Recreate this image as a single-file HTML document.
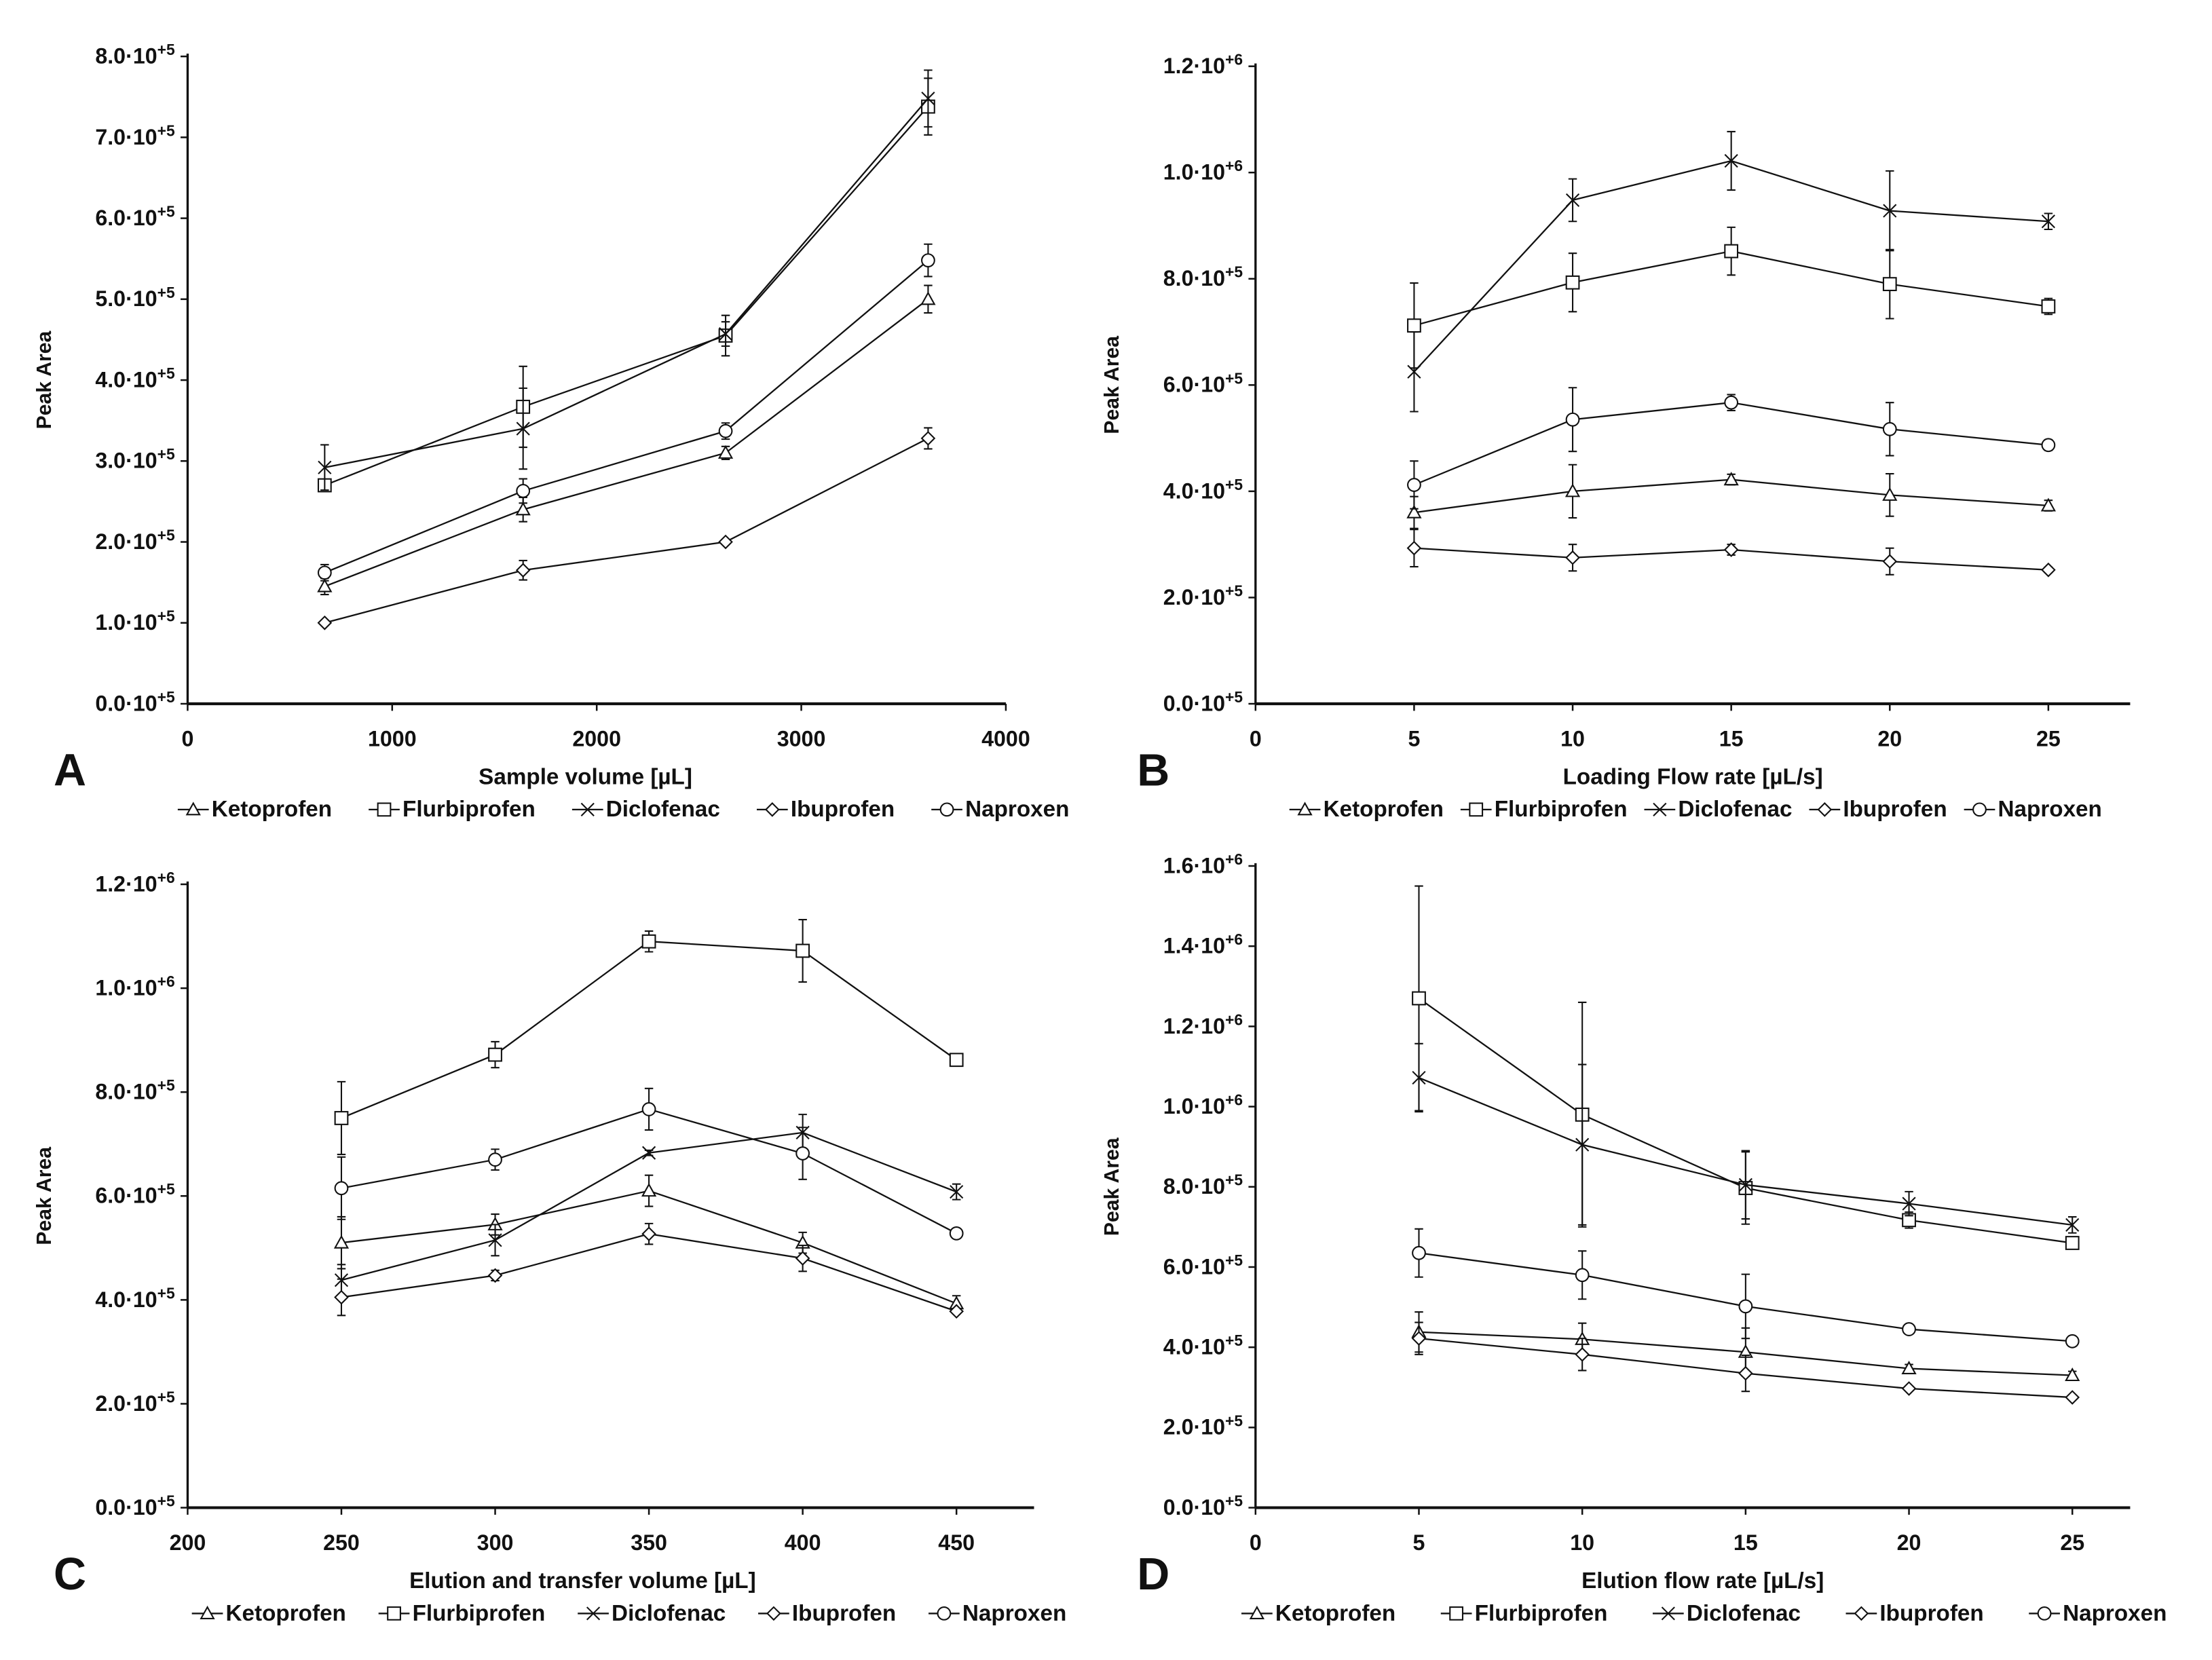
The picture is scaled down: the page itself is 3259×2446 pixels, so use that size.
<!DOCTYPE html>
<html><head><meta charset="utf-8"><style>
html,body{margin:0;padding:0;background:#fff}
svg{display:block}
text{font-family:"Liberation Sans Narrow","Liberation Sans",sans-serif;font-weight:bold;fill:#111}
</style></head><body>
<svg id="chart" xmlns="http://www.w3.org/2000/svg" width="3259" height="2446" viewBox="0 0 1568 1177" preserveAspectRatio="none"></svg>
<script>
// ---- data ----
const seriesNames = ["Ketoprofen","Flurbiprofen","Diclofenac","Ibuprofen","Naproxen"];
const markerTypes = ["triangle","square","cross","diamond","circle"];

const xA = [670,1640,2630,3620];
const ketoA = [1.45e5,2.4e5,3.1e5,5.0e5];   const ketoAErr = [0.1e5,0.15e5,0.08e5,0.17e5];
const flurA = [2.7e5,3.67e5,4.55e5,7.38e5]; const flurAErr = [0.05e5,0.5e5,0.25e5,0.35e5];
const dicA  = [2.92e5,3.4e5,4.57e5,7.48e5]; const dicAErr  = [0.28e5,0.5e5,0.15e5,0.35e5];
const ibuA  = [1.0e5,1.65e5,2.0e5,3.28e5];  const ibuAErr  = [0.03e5,0.12e5,0.03e5,0.13e5];
const napA  = [1.62e5,2.63e5,3.37e5,5.48e5];const napAErr  = [0.1e5,0.15e5,0.1e5,0.2e5];

const xB = [5,10,15,20,25];
const ketoB = [3.6e5,4.0e5,4.22e5,3.93e5,3.73e5];  const ketoBErr = [0.3e5,0.5e5,0.1e5,0.4e5,0.1e5];
const flurB = [7.12e5,7.93e5,8.52e5,7.9e5,7.48e5]; const flurBErr = [0.8e5,0.55e5,0.45e5,0.65e5,0.15e5];
const dicB  = [6.25e5,9.48e5,10.22e5,9.28e5,9.08e5]; const dicBErr = [0.75e5,0.4e5,0.55e5,0.75e5,0.15e5];
const ibuB  = [2.93e5,2.75e5,2.9e5,2.68e5,2.52e5]; const ibuBErr  = [0.35e5,0.25e5,0.1e5,0.25e5,0.05e5];
const napB  = [4.12e5,5.35e5,5.67e5,5.17e5,4.87e5]; const napBErr = [0.45e5,0.6e5,0.15e5,0.5e5,0.1e5];

const xC = [250,300,350,400,450];
const ketoC = [5.1e5,5.45e5,6.1e5,5.1e5,3.93e5];   const ketoCErr = [0.5e5,0.2e5,0.3e5,0.2e5,0.15e5];
const flurC = [7.5e5,8.72e5,10.9e5,10.72e5,8.62e5]; const flurCErr = [0.7e5,0.25e5,0.2e5,0.6e5,0.1e5];
const dicC  = [4.38e5,5.15e5,6.83e5,7.22e5,6.08e5]; const dicCErr = [0.3e5,0.3e5,0.05e5,0.35e5,0.15e5];
const ibuC  = [4.05e5,4.47e5,5.27e5,4.8e5,3.78e5];  const ibuCErr = [0.35e5,0.1e5,0.2e5,0.25e5,0.05e5];
const napC  = [6.15e5,6.7e5,7.67e5,6.82e5,5.28e5];  const napCErr = [0.6e5,0.2e5,0.4e5,0.5e5,0.05e5];

const xD = [5,10,15,20,25];
const ketoD = [4.38e5,4.2e5,3.88e5,3.47e5,3.3e5];   const ketoDErr = [0.5e5,0.4e5,0.6e5,0.1e5,0.1e5];
const flurD = [12.7e5,9.8e5,7.97e5,7.17e5,6.6e5];   const flurDErr = [2.8e5,2.8e5,0.9e5,0.2e5,0.1e5];
const dicD  = [10.72e5,9.05e5,8.05e5,7.58e5,7.05e5]; const dicDErr = [0.85e5,2.0e5,0.85e5,0.3e5,0.2e5];
const ibuD  = [4.22e5,3.82e5,3.35e5,2.97e5,2.75e5]; const ibuDErr = [0.4e5,0.4e5,0.45e5,0.05e5,0.05e5];
const napD  = [6.35e5,5.8e5,5.02e5,4.45e5,4.15e5];  const napDErr = [0.6e5,0.6e5,0.8e5,0.1e5,0.1e5];

const xTicksA = [0,1000,2000,3000,4000];
const xTicksB = [0,5,10,15,20,25];
const xTicksC = [200,250,300,350,400,450];
const xTicksD = [0,5,10,15,20,25];
const yTicksA = [0,1e5,2e5,3e5,4e5,5e5,6e5,7e5,8e5];
const yTicksB = [0,2e5,4e5,6e5,8e5,1e6,1.2e6];
const yTicksC = [0,2e5,4e5,6e5,8e5,1e6,1.2e6];
const yTicksD = [0,2e5,4e5,6e5,8e5,1e6,1.2e6,1.4e6,1.6e6];

const NS = "http://www.w3.org/2000/svg";
const svg = document.getElementById('chart');
function mk(tag, attrs, parent){
  const e = document.createElementNS(NS, tag);
  for (const k in attrs) e.setAttribute(k, attrs[k]);
  (parent||svg).appendChild(e); return e;
}
function tickLabel(v){
  if (v === 0) return ["0.0·10","+5"];
  const exp = v >= 1e6 ? 6 : 5;
  return [(v/Math.pow(10,exp)).toFixed(1)+"·10", "+"+exp];
}
function marker(g, type, x, y){
  const s = 4.5;
  const st = {fill:"#fff", stroke:"#111", "stroke-width":1};
  let m;
  if (type==="triangle") m = mk('polygon', Object.assign({points:`${x},${y-s} ${x-s},${y+s*0.8} ${x+s},${y+s*0.8}`}, st), g);
  else if (type==="square") m = mk('rect', Object.assign({x:x-s,y:y-s,width:2*s,height:2*s}, st), g);
  else if (type==="diamond") m = mk('polygon', Object.assign({points:`${x},${y-s} ${x+s},${y} ${x},${y+s} ${x-s},${y}`}, st), g);
  else if (type==="circle") m = mk('circle', Object.assign({cx:x,cy:y,r:s}, st), g);
  else { m = mk('path', {d:`M${x-s},${y-s}L${x+s},${y+s}M${x-s},${y+s}L${x+s},${y-s}`, stroke:"#111","stroke-width":1}, g); }
  return m;
}

function panel(cfg){
  const g = mk('g', {});
  
  
  const X = v => cfg.px0 + (v - cfg.xmin)/(cfg.xmax - cfg.xmin)*(cfg.px1 - cfg.px0);
  const Y = v => cfg.py0 - v/cfg.ymax*(cfg.py0 - cfg.py1);
  const ya = mk('line', {x1:cfg.px0,y1:cfg.py1-2,x2:cfg.px0,y2:cfg.py0,stroke:"#111","stroke-width":1.6}, g);
   
  const xa = mk('line', {x1:cfg.px0,y1:cfg.py0,x2:cfg.axisEnd,y2:cfg.py0,stroke:"#111","stroke-width":2}, g);
   
  cfg.yTicks.forEach(v=>{
    const y = Y(v);
    mk('line',{x1:cfg.px0-5,y1:y,x2:cfg.px0,y2:y,stroke:"#111","stroke-width":1.2},g);
    const [a,b] = tickLabel(v);
    const t = mk('text',{x:cfg.px0-9,y:y+5,"text-anchor":"end","font-size":15.5},g);
     
    t.appendChild(document.createTextNode(a));
    const sp = mk('tspan',{dy:-6,"font-size":11},t); sp.textContent = b;
  });
  cfg.xTicks.forEach(v=>{
    const x = X(v);
    mk('line',{x1:x,y1:cfg.py0,x2:x,y2:cfg.py0+5,stroke:"#111","stroke-width":1.2},g);
    const t = mk('text',{x:x,y:cfg.py0+30,"text-anchor":"middle","font-size":15.5},g);
     
    t.textContent = v;
  });
  const yt = mk('text',{x:0,y:0,"text-anchor":"middle","font-size":14.5,transform:`translate(${cfg.px0-97},${(cfg.py0+cfg.py1)/2}) rotate(-90)`,"font-family":"Liberation Sans"},g);
   
  yt.textContent = "Peak Area";
  const xt = mk('text',{x:cfg.titleX,y:cfg.py0+57,"text-anchor":"middle","font-size":16},g);
   
  xt.textContent = cfg.xTitle;
  const lt = mk('text',{x:cfg.letterX,y:cfg.py0+58,"font-size":32,"font-family":"Liberation Sans"},g);
   
  lt.textContent = cfg.id;
  cfg.series.forEach((vals,i)=>{
    const sg = mk('g',{},g);
    
    
    const errs = cfg.errs[i];
    vals.forEach((v,j)=>{
      const x = X(cfg.x[j]), y1 = Y(v+errs[j]), y2 = Y(v-errs[j]);
      const e = mk('path',{d:`M${x},${y1}L${x},${y2}M${x-3},${y1}L${x+3},${y1}M${x-3},${y2}L${x+3},${y2}`,stroke:"#111","stroke-width":1,fill:"none"},sg);
       
    });
    const pl = mk('polyline',{points:vals.map((v,j)=>X(cfg.x[j])+','+Y(v)).join(' '),fill:"none",stroke:"#111","stroke-width":1.1},sg);
     
    vals.forEach((v,j)=>{
      const m = marker(sg, markerTypes[i], X(cfg.x[j]), Y(v));
       
    });
  });
  const lg = mk('g',{},g);
   
  let lx = cfg.legendX; const ly = cfg.py0 + 80;
  seriesNames.forEach((n,i)=>{
    const eg = mk('g',{},lg);
     
    mk('line',{x1:lx,y1:ly-5,x2:lx+22,y2:ly-5,stroke:"#111","stroke-width":1.1},eg);
    marker(eg, markerTypes[i], lx+11, ly-5);
    const t = mk('text',{x:lx+24,y:ly,"font-size":16},eg);
    t.textContent = n;
    lx += 24 + t.getComputedTextLength() + cfg.legendGap;
  });
}

panel({id:"A",px0:133,px1:713,xmin:0,xmax:4000,axisEnd:713,py0:499,py1:40,ymax:8e5,
  xTicks:xTicksA,yTicks:yTicksA,x:xA,xTitle:"Sample volume [µL]",titleX:415,letterX:38,legendX:126,legendGap:26,
  series:[ketoA,flurA,dicA,ibuA,napA],errs:[ketoAErr,flurAErr,dicAErr,ibuAErr,napAErr]});
panel({id:"B",px0:890,px1:1452,xmin:0,xmax:25,axisEnd:1510,py0:499,py1:47,ymax:1.2e6,
  xTicks:xTicksB,yTicks:yTicksB,x:xB,xTitle:"Loading Flow rate [µL/s]",titleX:1200,letterX:806,legendX:914,legendGap:12,
  series:[ketoB,flurB,dicB,ibuB,napB],errs:[ketoBErr,flurBErr,dicBErr,ibuBErr,napBErr]});
panel({id:"C",px0:133,px1:678,xmin:200,xmax:450,axisEnd:733,py0:1069,py1:627,ymax:1.2e6,
  xTicks:xTicksC,yTicks:yTicksC,x:xC,xTitle:"Elution and transfer volume [µL]",titleX:413,letterX:38,legendX:136,legendGap:23,
  series:[ketoC,flurC,dicC,ibuC,napC],errs:[ketoCErr,flurCErr,dicCErr,ibuCErr,napCErr]});
panel({id:"D",px0:890,px1:1469,xmin:0,xmax:25,axisEnd:1510,py0:1069,py1:614,ymax:1.6e6,
  xTicks:xTicksD,yTicks:yTicksD,x:xD,xTitle:"Elution flow rate [µL/s]",titleX:1207,letterX:806,legendX:880,legendGap:32,
  series:[ketoD,flurD,dicD,ibuD,napD],errs:[ketoDErr,flurDErr,dicDErr,ibuDErr,napDErr]});
</script>
</body></html>
